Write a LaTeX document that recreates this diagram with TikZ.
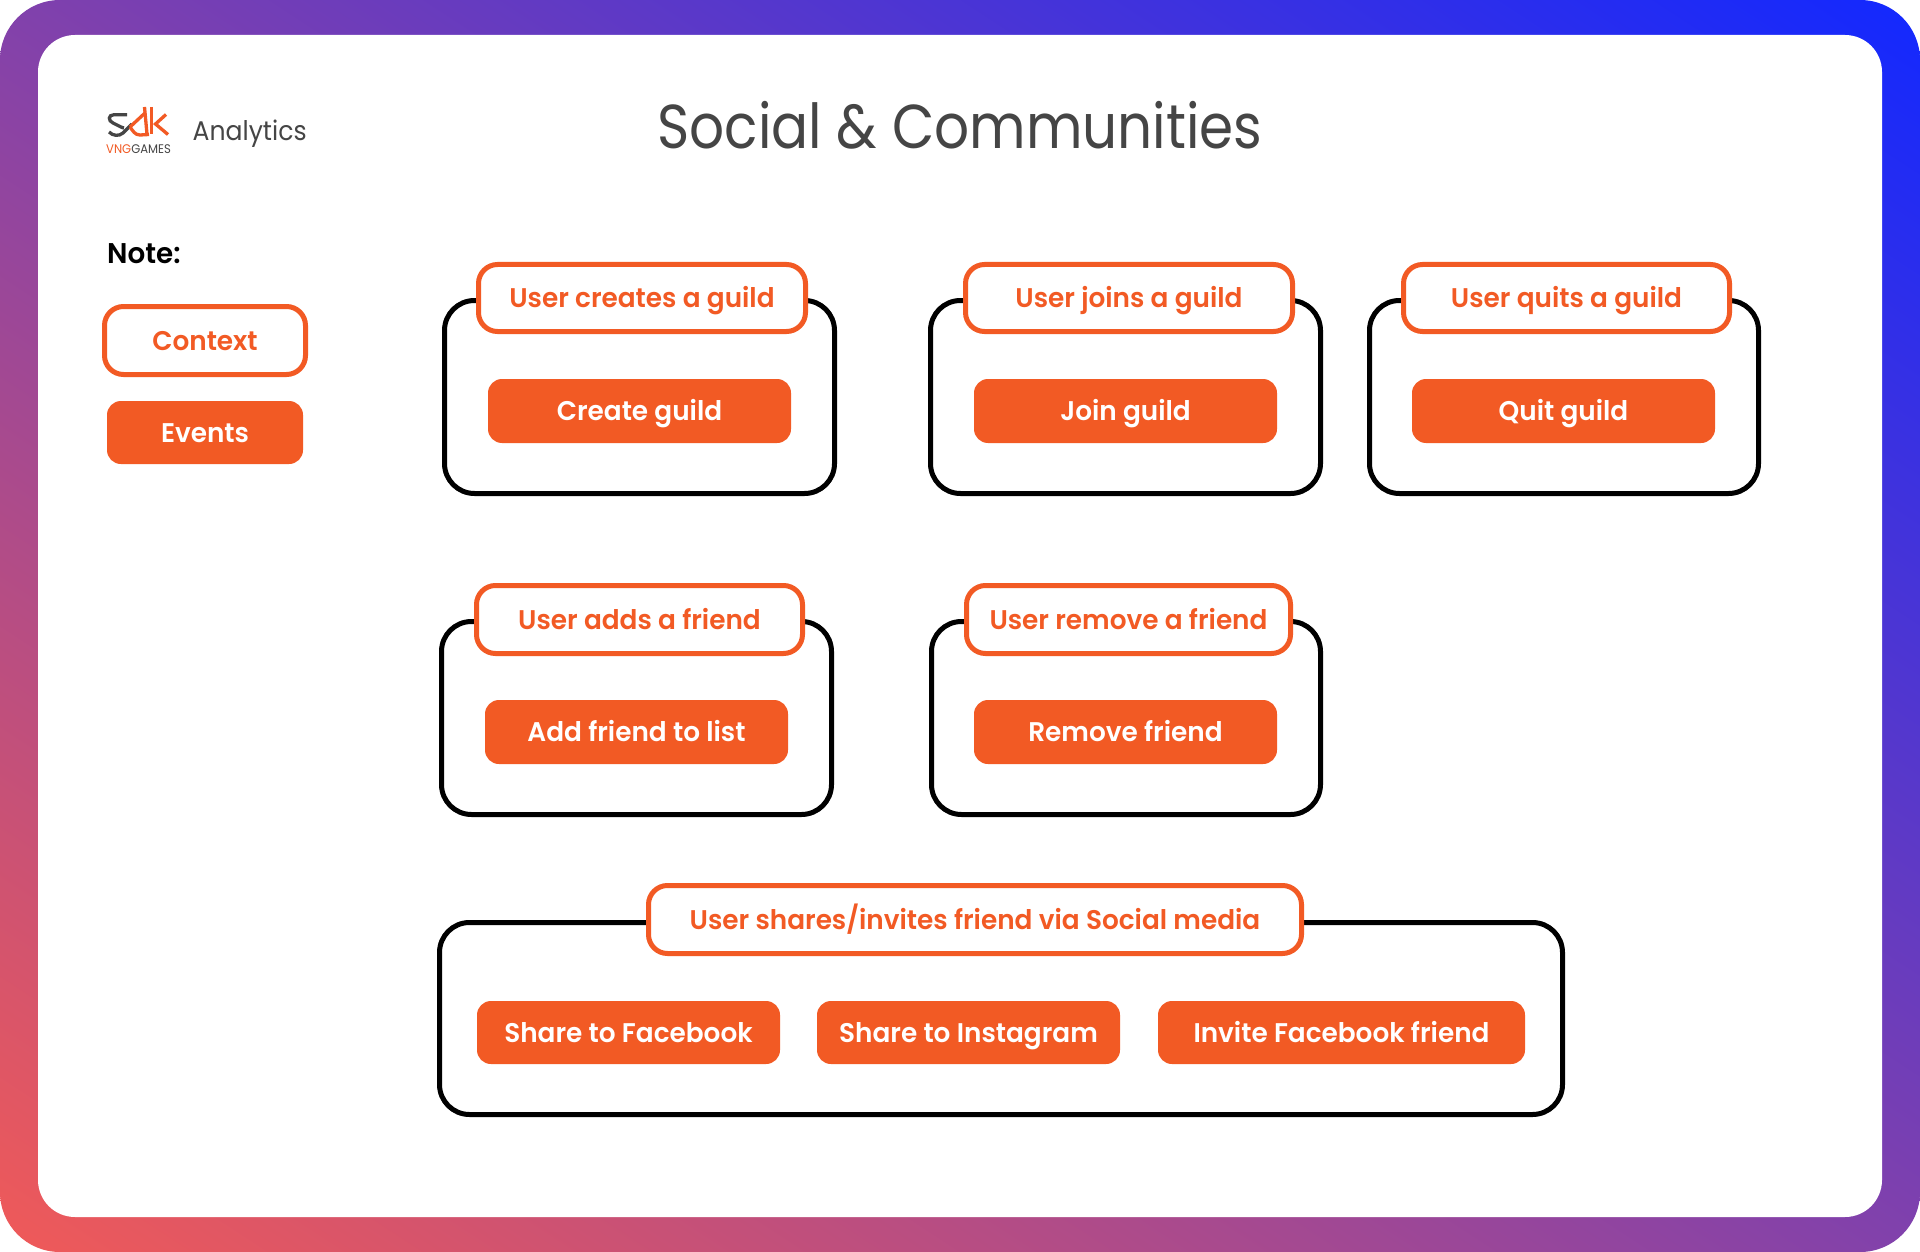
\documentclass[tikz,border=0pt]{standalone}
\usepackage{fontspec}
\setmainfont{Poppins}
\newfontfamily\medf[UprightFont=* SemiBold,FakeStretch=0.975]{Poppins}
\newfontfamily\regf[FakeStretch=0.93]{Poppins}
\newfontfamily\titf[FakeStretch=0.885]{Poppins}
\definecolor{brand}{HTML}{F25A24}
\definecolor{inkgrey}{HTML}{454545}
\definecolor{gradA}{HTML}{F05A58}
\definecolor{gradB}{HTML}{1228FF}
\tikzset{
  boxbase/.style={rectangle,inner sep=0pt,outer sep=0pt,align=center,text height=19pt,text depth=0pt,font=\fontsize{27}{30}\selectfont\medf},
  groupbox/.style={boxbase,draw=black,fill=white,line width=5pt,rounded corners=30pt},
  labelbox/.style={boxbase,draw=brand,fill=white,line width=5pt,rounded corners=19pt,text=brand},
  eventbox/.style={boxbase,fill=brand,rounded corners=14pt,text=white},
  logostroke/.style={line width=3.3pt,line cap=butt}
}
\newcommand{\placebox}[7]{%
  \pgfmathsetmacro{\cxv}{(#3+#5)/2}\pgfmathsetmacro{\cyv}{(#4+#6)/2}%
  \pgfmathsetmacro{\wv}{#5-#3-(#2)}\pgfmathsetmacro{\hv}{#6-#4-(#2)}%
  \node[#1,minimum width=\wv pt,minimum height=\hv pt] (#7)}
\begin{document}
\begin{tikzpicture}[x=1pt,y=-1pt]
\useasboundingbox (0,0) rectangle (1920,1252);
\fill[white] (0,0) rectangle (1920,1252);
\begin{scope}
  \clip[rounded corners=60pt] (0,0) rectangle (1920,1252);
  \begin{scope}[transform canvas={shift={(960,626)},rotate=56.9}]
    \shade[left color=gradA,right color=gradB] (-1049,-1300) rectangle (1049,1300);
  \end{scope}
\end{scope}
\fill[white,rounded corners=37pt] (38,35) rectangle (1882,1217);

% logo
\draw[inkgrey,logostroke] (127,114.7) -- (114,114.7) .. controls (108,114.7) and (108,121) .. (113,123) -- (120,126.5) .. controls (122,127.5) and (123,128) .. (124,128);
\draw[inkgrey,logostroke] (109,132) .. controls (113,136) and (119,136.5) .. (123,133) -- (132,124);
\draw[brand,logostroke] (130,127) -- (145,113);
\draw[brand,logostroke] (130,127) .. controls (133,131) and (135,135) .. (140,135) -- (149,134.5);
\draw[brand,logostroke] (144.5,107) -- (147,134);
\draw[brand,logostroke] (151.5,107) -- (151.5,134);
\draw[brand,logostroke] (166,114.5) -- (155.5,124) -- (168,134.5);
\node[anchor=base west,inner sep=0pt,font=\fontsize{12.5}{14}\selectfont\regf] (brandmark) at (106,153.5) {\textcolor{brand}{VNG}\textcolor{inkgrey}{GAMES}};

\node[anchor=base west,inner sep=0pt,text=inkgrey,font=\fontsize{27}{30}\selectfont\regf] (product) at (192.5,140.5) {Analytics};
\node[anchor=base,inner sep=0pt,text=inkgrey,font=\fontsize{62}{66}\selectfont\titf] (title) at (960,149) {Social \& Communities};
\node[anchor=base west,inner sep=0pt,text=black,font=\fontsize{28.5}{30}\selectfont\medf] (note) at (107,263) {Note:};

% legend
\placebox{labelbox}{5}{102}{304}{308}{377}{legendctx} at (\cxv,\cyv) {Context};
\placebox{eventbox}{0}{107}{401}{303}{464}{legendevt} at (\cxv,\cyv) {Events};

% group outlines
\placebox{groupbox}{5}{442}{298}{837}{496}{groupA} at (\cxv,\cyv) {};
\placebox{groupbox}{5}{928}{298}{1323}{496}{groupB} at (\cxv,\cyv) {};
\placebox{groupbox}{5}{1367}{298}{1761}{496}{groupC} at (\cxv,\cyv) {};
\placebox{groupbox}{5}{439}{619}{834}{817}{groupD} at (\cxv,\cyv) {};
\placebox{groupbox}{5}{929}{619}{1323}{817}{groupE} at (\cxv,\cyv) {};
\placebox{groupbox}{5}{437}{920}{1565}{1117}{groupF} at (\cxv,\cyv) {};

% context labels
\placebox{labelbox}{5}{476}{262}{808}{334}{ctxA} at (\cxv,\cyv) {User creates a guild};
\placebox{labelbox}{5}{963}{262}{1295}{334}{ctxB} at (\cxv,\cyv) {User joins a guild};
\placebox{labelbox}{5}{1401}{262}{1732}{334}{ctxC} at (\cxv,\cyv) {User quits a guild};
\placebox{labelbox}{5}{474}{583}{805}{656}{ctxD} at (\cxv,\cyv) {User adds a friend};
\placebox{labelbox}{5}{964}{583}{1293}{656}{ctxE} at (\cxv,\cyv) {User remove a friend};
\placebox{labelbox}{5}{646}{883}{1304}{956}{ctxF} at (\cxv,\cyv) {User shares/invites friend via Social media};

% events
\placebox{eventbox}{0}{488}{379}{791}{443}{evA} at (\cxv,\cyv) {Create guild};
\placebox{eventbox}{0}{974}{379}{1277}{443}{evB} at (\cxv,\cyv) {Join guild};
\placebox{eventbox}{0}{1412}{379}{1715}{443}{evC} at (\cxv,\cyv) {Quit guild};
\placebox{eventbox}{0}{485}{700}{788}{764}{evD} at (\cxv,\cyv) {Add friend to list};
\placebox{eventbox}{0}{974}{700}{1277}{764}{evE} at (\cxv,\cyv) {Remove friend};
\placebox{eventbox}{0}{477}{1001}{780}{1064}{evF} at (\cxv,\cyv) {Share to Facebook};
\placebox{eventbox}{0}{817}{1001}{1120}{1064}{evG} at (\cxv,\cyv) {Share to Instagram};
\placebox{eventbox}{0}{1158}{1001}{1525}{1064}{evH} at (\cxv,\cyv) {Invite Facebook friend};
\end{tikzpicture}
\end{document}
